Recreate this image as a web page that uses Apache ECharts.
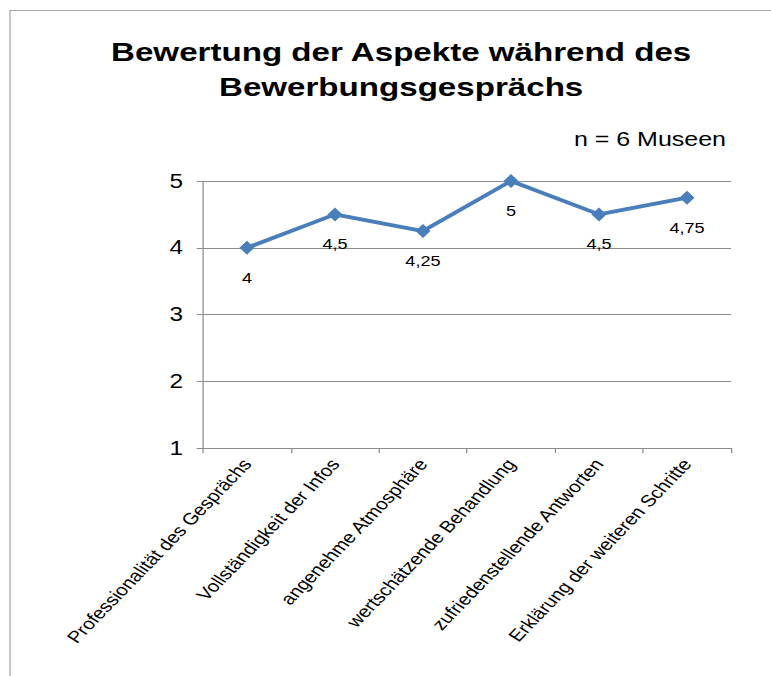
<!DOCTYPE html>
<html>
<head>
<meta charset="utf-8">
<script src="https://cdn.jsdelivr.net/npm/echarts@6/dist/echarts.min.js"></script>
<style>
  html, body { margin: 0; padding: 0; background: #fff; overflow: hidden; }
  /* the reference picture is stretched sideways, so draw narrow and widen it */
  #chart { width: 617px; height: 676px; transform: scaleX(1.2496); transform-origin: 0 0; }
</style>
</head>
<body>
<div id="chart"></div>
<script>
const categories = [
  "Professionalität des Gesprächs",
  "Vollständigkeit der Infos",
  "angenehme Atmosphäre",
  "wertschätzende Behandlung",
  "zufriedenstellende Antworten",
  "Erklärung der weiteren Schritte"
];
const ratings = [4, 4.5, 4.25, 5, 4.5, 4.75];
const yTicks = [1, 2, 3, 4, 5];

const font = "Liberation Sans, Arial, sans-serif";
const chart = echarts.init(document.getElementById("chart"), null, { renderer: "svg" });

chart.setOption({
  animation: false,
  title: {
    text: "Bewertung der Aspekte während des\nBewerbungsgesprächs",
    left: 316,
    top: 29,
    textAlign: "center",
    textStyle: { fontFamily: font, fontSize: 26.5, fontWeight: "bold", color: "#000", lineHeight: 35 }
  },
  graphic: [
    {
      type: "rect",
      shape: { x: 8, y: 10.5, width: 700, height: 700 },
      style: { fill: "none", stroke: "#a6a6a6", lineWidth: 1 },
      silent: true
    },
    {
      type: "text",
      right: 36,
      top: 129,
      style: { text: "n = 6 Museen", font: "20px " + font, fill: "#000" }
    }
  ],
  grid: { left: 162.4, right: 32, top: 181, bottom: 228 },
  xAxis: {
    type: "category",
    data: categories,
    boundaryGap: true,
    axisLine: { lineStyle: { color: "#8c8c8c", width: 1 } },
    axisTick: { show: true, length: 5, lineStyle: { color: "#8c8c8c" } },
    axisLabel: {
      interval: 0,
      rotate: 52,
      margin: 13,
      fontFamily: font,
      fontSize: 16.5,
      color: "#000"
    }
  },
  yAxis: {
    type: "value",
    min: yTicks[0],
    max: yTicks[yTicks.length - 1],
    interval: 1,
    axisLine: { show: true, lineStyle: { color: "#8c8c8c", width: 1 } },
    axisTick: { show: true, length: 5, lineStyle: { color: "#8c8c8c" } },
    splitLine: { show: true, lineStyle: { color: "#8c8c8c", width: 1 } },
    axisLabel: {
      margin: 16,
      padding: [6, 0, 0, 0],
      fontFamily: font,
      fontSize: 19.5,
      color: "#000"
    }
  },
  series: [
    {
      type: "line",
      data: ratings,
      symbol: "diamond",
      symbolSize: [12, 14],
      itemStyle: { color: "#4a7ebb" },
      lineStyle: { color: "#4a7ebb", width: 3.75 },
      label: {
        show: true,
        position: "bottom",
        distance: 15,
        fontFamily: font,
        fontSize: 14.5,
        color: "#000",
        formatter: (p) => String(p.value).replace(".", ",")
      }
    }
  ]
});
</script>
</body>
</html>
